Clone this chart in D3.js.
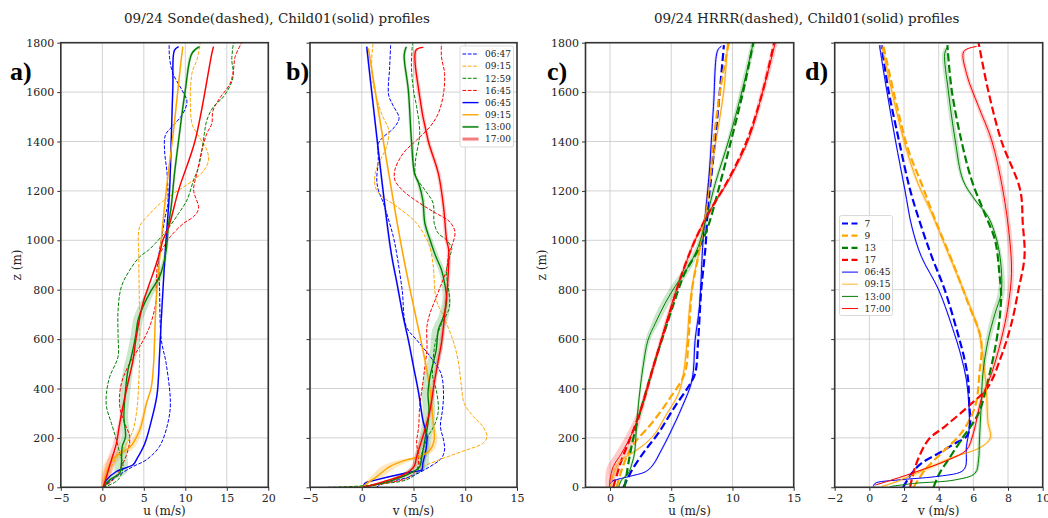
<!DOCTYPE html>
<html>
<head>
<meta charset="utf-8">
<script src="https://cdn.jsdelivr.net/npm/d3@7"></script>
<style>
  body { margin: 0; background: #fff; }
  svg { display: block; font-family: "DejaVu Serif", serif; }
</style>
</head>
<body>
<div id="container"></div>
<script>
// tick labels
const zTicks = [0, 200, 400, 600, 800, 1000, 1200, 1400, 1600, 1800]
const uTicksA = [-5, 0, 5, 10, 15, 20]
const vTicksB = [-5, 0, 5, 10, 15]
const uTicksC = [0, 5, 10, 15]
const vTicksD = [-2, 0, 2, 4, 6, 8, 10]

// legend labels
const sondeTimes = ['06:47', '09:15', '12:59', '16:45']
const childTimes = ['06:45', '09:15', '13:00', '17:00']
const hrrrHours = ['7', '9', '13', '17']

// panel a: u, sonde [u, z]; child [u, z, spread]
const aSonde0647 = [[0.1,0],[1.7,43],[3.7,84],[5.3,111],[6.9,166],[7.9,260],[8.2,340],[7.7,500],[7.1,600],[6.9,800],[6.8,930],[7.1,1000],[7.6,1100],[7.9,1150],[7.8,1271],[7.5,1365],[7.6,1426],[8.4,1460],[9.6,1507],[10.2,1561],[9.6,1608],[8.5,1676],[8.1,1740],[8.06,1797]]
const aSonde0915 = [[0.1,0],[0.7,54],[1.7,121],[2.9,175],[3.7,231],[4.2,325],[4.4,432],[4.5,540],[4.45,790],[4.4,920],[4.5,1055],[5.4,1096],[7.0,1150],[8.6,1190],[11.0,1244],[12.3,1285],[12.8,1325],[12.6,1365],[11.4,1433],[10.8,1473],[10.8,1676],[11.4,1730],[11.8,1800]]
const aSonde1259 = [[0.1,0],[1.9,30],[2.5,84],[2.1,138],[1.7,192],[1.1,259],[0.5,327],[0.5,381],[0.9,448],[1.9,529],[1.9,610],[1.9,717],[2.3,812],[3.3,879],[4.5,933],[5.6,961],[6.4,988],[7.8,1042],[9.2,1109],[10.2,1163],[11.0,1244],[11.6,1298],[12.0,1365],[12.3,1433],[12.6,1487],[13.4,1541],[14.6,1581],[15.6,1642],[15.8,1676],[15.6,1730],[15.8,1800]]
const aSonde1645 = [[0.1,0],[1.3,30],[2.3,84],[3.1,151],[3.3,205],[2.7,259],[2.1,327],[2.3,421],[3.5,515],[4.5,569],[5.7,650],[6.5,758],[6.5,812],[6.8,930],[7.6,985],[8.2,1015],[9.8,1069],[11.0,1096],[11.6,1129],[11.0,1204],[11.4,1271],[12.0,1365],[12.6,1433],[13.2,1473],[13.3,1521],[14.0,1568],[15.4,1635],[15.8,1689],[16.0,1743],[16.8,1800]]
const aChild0645 = [[0.1,0,0.05],[0.5,30,0.1],[1.7,64,0.1],[3.7,91,0.1],[4.1,111,0.1],[5.1,175,0.1],[5.9,268,0.1],[6.6,376,0.1],[6.9,540,0.1],[7.1,676,0.1],[7.6,961,0.1],[8.1,1200,0.1],[8.3,1400,0.1],[8.5,1620,0.1],[8.7,1770,0.1],[9.2,1784,0.1]]
const aChild0915 = [[0.1,0,0.1],[0.3,40,0.5],[0.9,94,0.7],[1.7,128,0.7],[3.3,162,0.6],[4.5,231,0.3],[5.3,338,0.15],[5.9,405,0.1],[6.2,510,0.1],[6.3,600,0.1],[6.5,760,0.1],[7.0,961,0.1],[7.7,1200,0.1],[8.6,1450,0.1],[9.4,1700,0.1],[9.7,1784,0.1]]
const aChild1300 = [[0.1,0,0.1],[0.9,30,0.5],[2.1,57,0.8],[2.3,97,0.8],[2.4,165,0.5],[2.8,205,0.5],[2.6,286,0.5],[2.8,394,0.6],[3.1,475,0.6],[3.5,529,0.6],[4.0,610,0.6],[4.3,677,0.6],[4.9,731,0.6],[5.7,785,0.5],[6.9,853,0.4],[7.3,894,0.3],[7.7,961,0.2],[8.0,1069,0.15],[8.3,1136,0.15],[8.7,1271,0.15],[9.2,1406,0.15],[10.0,1608,0.15],[10.8,1757,0.2],[11.7,1784,0.2]]
const aChild1700 = [[0.1,0,0.3],[0.5,43,0.5],[1.1,111,0.5],[1.7,178,0.4],[2.1,259,0.2],[2.9,394,0.12],[3.7,515,0.1],[4.1,610,0.1],[4.9,745,0.1],[5.7,826,0.1],[6.4,894,0.1],[7.0,961,0.1],[7.3,1000,0.1],[8.0,1055,0.1],[9.2,1204,0.1],[11.2,1406,0.1],[13.2,1757,0.1],[13.4,1784,0.1]]

// panel b: v
const bSonde0647 = [[1.4,0],[2.1,16],[4.7,43],[6.6,84],[7.7,118],[8.0,151],[7.9,192],[7.6,246],[7.8,313],[7.9,381],[7.65,462],[6.6,530],[5.3,597],[4.3,651],[3.9,800],[3.4,940],[3.05,1015],[2.6,1082],[2.1,1150],[1.6,1204],[1.45,1244],[1.6,1325],[1.6,1392],[2.1,1419],[3.05,1453],[3.6,1494],[3.0,1548],[2.6,1588],[2.7,1703],[2.8,1797]]
const bSonde0915 = [[-2.0,0],[0,4],[1.4,9],[4.0,43],[5.9,84],[7.9,118],[10.1,151],[11.7,178],[12.1,205],[11.7,246],[10.8,286],[9.9,340],[9.6,421],[9.3,516],[8.8,597],[7.9,692],[7.2,759],[6.9,900],[6.6,970],[6.3,1001],[5.3,1069],[3.4,1136],[1.8,1183],[1.3,1217],[1.3,1271],[1.8,1325],[2.4,1379],[2.6,1446],[1.9,1514],[1.1,1635],[0.96,1730],[1.1,1797]]
const bSonde1259 = [[-3.3,0],[-0.2,5],[2.4,16],[4.3,30],[5.3,57],[5.6,97],[5.9,151],[6.4,205],[7.1,259],[7.4,313],[7.2,394],[6.85,449],[6.9,516],[7.1,584],[7.6,651],[8.4,719],[8.5,759],[8.2,881],[8.6,947],[8.7,967],[8.2,1001],[7.4,1028],[7.0,1069],[6.9,1150],[6.1,1204],[5.2,1260],[5.2,1325],[5.6,1433],[5.3,1541],[5.0,1608],[4.8,1703],[4.9,1797]]
const bSonde1645 = [[0.1,0],[2.1,16],[4.3,36],[5.3,70],[5.5,124],[5.3,178],[5.5,246],[5.6,327],[5.9,421],[6.1,489],[6.3,557],[6.3,651],[6.6,705],[7.1,759],[7.6,813],[8.2,881],[8.4,947],[8.8,988],[9.0,1035],[8.5,1075],[7.2,1109],[5.6,1150],[3.9,1204],[3.2,1244],[3.2,1285],[4.0,1352],[5.3,1406],[6.6,1460],[7.4,1514],[7.9,1595],[8.0,1676],[7.7,1743],[7.7,1797]]
const bChild0645 = [[0.2,0,0.05],[0.3,16,0.1],[1.4,30,0.2],[5.0,64,0.2],[5.8,70,0.2],[5.9,97,0.2],[6.2,151,0.2],[6.3,205,0.2],[5.9,273,0.1],[5.5,381,0.1],[5.0,489,0.1],[4.5,597,0.1],[4.0,692,0.1],[3.4,827,0.1],[2.8,961,0.1],[0.48,1784,0.1]]
const bChild0915 = [[0.1,0,0.1],[0.5,16,0.3],[1.45,43,0.6],[2.7,84,0.8],[4.3,111,0.7],[5.6,124,0.5],[6.6,151,0.4],[7.0,192,0.3],[6.85,286,0.1],[6.6,394,0.1],[6.1,516,0.1],[3.9,961,0.1],[0.64,1777,0.1]]
const bChild1300 = [[0.1,0,0.1],[1.1,9,0.3],[3.05,30,0.6],[4.7,57,0.8],[5.6,84,0.8],[5.8,124,0.7],[6.1,192,0.6],[6.4,259,0.6],[6.5,313,0.6],[6.4,381,0.6],[6.6,449,0.6],[6.9,503,0.6],[7.2,557,0.6],[7.4,638,0.6],[7.9,692,0.5],[8.2,759,0.4],[8.0,827,0.3],[7.7,881,0.3],[7.1,940,0.3],[6.6,1001,0.25],[6.1,1069,0.2],[5.9,1163,0.2],[5.5,1231,0.2],[5.1,1271,0.15],[4.8,1406,0.15],[4.5,1608,0.15],[4.1,1750,0.15],[4.3,1784,0.15]]
const bChild1700 = [[0.1,0,0.1],[2.1,23,0.2],[4.0,50,0.25],[5.05,84,0.25],[5.3,124,0.25],[5.6,165,0.25],[6.1,232,0.2],[6.6,313,0.2],[7.0,421,0.2],[7.4,516,0.2],[7.7,584,0.2],[8.0,692,0.2],[8.3,827,0.2],[8.4,961,0.2],[8.2,1001,0.2],[7.9,1136,0.2],[7.4,1271,0.2],[6.4,1406,0.2],[5.5,1608,0.2],[5.24,1770,0.2],[5.95,1781,0.2]]

// panel c: u, hrrr [u, z]; child [u, z, spread]
const cHrrr7 = [[1.1,0],[1.8,70],[2.9,151],[3.95,219],[5.3,327],[6.4,407],[6.95,461],[7.2,596],[7.45,799],[7.8,974],[8.0,1136],[8.3,1271],[8.85,1541],[9.3,1790]]
const cHrrr9 = [[0.55,0],[0.95,70],[1.8,165],[3.4,259],[4.8,354],[6.1,461],[6.4,596],[6.7,799],[7.2,934],[7.7,1069],[8.3,1338],[9.0,1608],[9.7,1800]]
const cHrrr13 = [[1.2,0],[1.55,111],[2.0,219],[2.9,380],[3.7,515],[4.5,637],[5.3,758],[6.1,866],[7.2,961],[8.0,1055],[8.85,1204],[9.9,1406],[10.9,1608],[11.7,1800]]
const cHrrr17 = [[0.27,0],[0.95,111],[1.6,192],[2.6,327],[3.7,515],[4.8,691],[5.7,839],[6.95,1001],[8.2,1123],[9.5,1231],[11.2,1406],[12.5,1608],[13.4,1800]]
const cChild0645 = [[0.0,10,0.05],[0.14,23,0.1],[1.5,43,0.1],[2.9,63,0.1],[3.5,90,0.1],[4.2,151,0.1],[4.9,219,0.1],[5.9,327,0.1],[6.7,434,0.1],[6.95,596,0.1],[7.3,731,0.1],[7.6,1001,0.1],[7.85,1136,0.1],[8.1,1271,0.1],[8.45,1541,0.1],[8.8,1770,0.1],[9.1,1786,0.1]]
const cChild0915 = [[0.0,0,0.1],[0.4,70,0.2],[0.95,111,0.2],[1.8,138,0.2],[2.9,178,0.1],[3.7,219,0.1],[4.5,286,0.1],[5.6,380,0.1],[6.0,461,0.1],[6.3,596,0.1],[6.5,731,0.1],[6.8,839,0.1],[7.35,974,0.1],[7.9,1136,0.1],[8.45,1338,0.1],[9.3,1608,0.1],[9.6,1800,0.1]]
const cChild1300 = [[0.7,0,0.1],[0.95,30,0.1],[1.5,57,0.1],[1.8,97,0.1],[2.0,138,0.1],[2.2,273,0.1],[2.45,394,0.1],[2.7,488,0.15],[3.1,596,0.2],[3.7,664,0.3],[4.5,745,0.35],[5.3,812,0.35],[6.4,893,0.3],[7.2,974,0.2],[7.9,1096,0.15],[8.6,1231,0.15],[9.7,1406,0.15],[10.8,1608,0.2],[11.7,1800,0.2]]
const cChild1700 = [[-0.05,0,0.3],[0.0,30,0.4],[0.27,84,0.5],[0.95,138,0.5],[1.8,219,0.4],[2.6,327,0.2],[3.7,515,0.15],[4.8,704,0.15],[5.9,866,0.15],[6.95,1001,0.15],[8.2,1123,0.15],[9.7,1244,0.15],[11.3,1406,0.15],[12.5,1608,0.2],[13.5,1800,0.2]]

// panel d: v
const dHrrr7 = [[1.95,0],[2.45,57],[3.0,97],[4.0,138],[4.95,178],[5.6,205],[5.8,246],[5.75,354],[5.7,434],[5.5,515],[5.1,623],[4.35,799],[3.6,934],[3.0,1055],[2.35,1204],[1.7,1406],[1.1,1608],[0.7,1790]]
const dHrrr9 = [[2.55,0],[3.2,70],[4.15,138],[5.3,219],[6.1,327],[6.35,461],[6.45,596],[5.7,745],[4.75,920],[3.8,1082],[3.0,1231],[2.25,1365],[1.6,1541],[0.8,1790]]
const dHrrr13 = [[3.7,0],[4.05,57],[4.55,111],[5.3,192],[6.3,300],[6.85,434],[7.4,623],[7.6,772],[7.5,866],[7.25,1001],[6.65,1109],[5.9,1244],[5.3,1406],[4.75,1608],[4.5,1790]]
const dHrrr17 = [[2.35,0],[2.65,84],[3.4,192],[4.35,246],[5.7,327],[6.85,407],[7.6,529],[8.2,664],[8.6,799],[8.95,934],[8.85,1069],[8.7,1204],[7.6,1406],[6.85,1608],[6.3,1800]]
const dChild0645 = [[0.23,3,0.05],[0.33,16,0.05],[1.7,30,0.05],[3.8,43,0.05],[5.3,63,0.05],[5.55,84,0.05],[5.6,165,0.05],[5.75,232,0.05],[5.75,327,0.05],[5.6,434,0.05],[5.3,529,0.05],[4.9,623,0.05],[4.0,799,0.05],[3.0,934,0.05],[2.45,1055,0.05],[2.05,1204,0.05],[1.5,1406,0.05],[1.0,1608,0.05],[0.58,1790,0.05]]
const dChild0915 = [[0.7,3,0.1],[1.3,16,0.2],[2.25,43,0.3],[3.6,84,0.3],[4.9,124,0.2],[6.1,151,0.1],[6.75,178,0.1],[7.0,205,0.1],[6.85,259,0.1],[6.75,394,0.1],[6.55,529,0.1],[6.3,637,0.1],[5.5,785,0.1],[4.55,947,0.1],[3.6,1109,0.1],[2.8,1231,0.1],[2.15,1365,0.1],[1.5,1541,0.1],[0.7,1790,0.1]]
const dChild1300 = [[1.2,3,0.1],[2.6,16,0.1],[4.95,30,0.1],[6.1,57,0.1],[6.3,111,0.1],[6.35,192,0.1],[6.45,327,0.1],[6.55,461,0.1],[6.85,596,0.15],[7.25,704,0.2],[7.6,785,0.2],[7.6,893,0.15],[7.35,1001,0.1],[6.85,1096,0.1],[6.1,1163,0.1],[5.4,1244,0.1],[4.95,1406,0.15],[4.55,1608,0.15],[4.35,1757,0.15],[4.5,1781,0.15]]
const dChild1700 = [[0.33,9,0.08],[1.3,30,0.08],[3.0,70,0.1],[4.55,111,0.1],[5.6,151,0.1],[6.0,219,0.1],[6.45,354,0.1],[7.05,461,0.12],[7.6,596,0.12],[8.0,731,0.15],[8.2,866,0.15],[8.1,1001,0.15],[7.7,1204,0.15],[7.05,1406,0.15],[6.3,1541,0.12],[5.6,1676,0.12],[5.45,1765,0.12],[6.2,1785,0.12]]

const colors = ['#0000ff', '#ffa500', '#008000', '#ff0000']

const width = 1048
const height = 518
const svg = d3.select('#container').append('svg').attr('width', width).attr('height', height)

const yScale = d3.scaleLinear().domain([0, 1800]).range([487.3, 42.7])

const panels = [
    { key: 'a', left: 60.8, right: 268.3, domain: [-5, 20], ticks: uTicksA, xlabel: 'u (m/s)', zLabels: true,
      dashed: [aSonde0647, aSonde0915, aSonde1259, aSonde1645], solid: [aChild0645, aChild0915, aChild1300, aChild1700], thinDash: true },
    { key: 'b', left: 310, right: 517, domain: [-5, 15], ticks: vTicksB, xlabel: 'v (m/s)', zLabels: false,
      dashed: [bSonde0647, bSonde0915, bSonde1259, bSonde1645], solid: [bChild0645, bChild0915, bChild1300, bChild1700], thinDash: true },
    { key: 'c', left: 585.5, right: 793.7, domain: [-2, 15], ticks: uTicksC, xlabel: 'u (m/s)', zLabels: true,
      dashed: [cHrrr7, cHrrr9, cHrrr13, cHrrr17], solid: [cChild0645, cChild0915, cChild1300, cChild1700], thinDash: false },
    { key: 'd', left: 834.7, right: 1042.7, domain: [-2, 10], ticks: vTicksD, xlabel: 'v (m/s)', zLabels: false,
      dashed: [dHrrr7, dHrrr9, dHrrr13, dHrrr17], solid: [dChild0645, dChild0915, dChild1300, dChild1700], thinDash: false }
]

const letterX = { a: 10, b: 286, c: 547, d: 805 }

panels.forEach(p => {
    const xScale = d3.scaleLinear().domain(p.domain).range([p.left, p.right])
    const g = svg.append('g')
    const top = yScale(1800), bottom = yScale(0)

    svg.append('clipPath').attr('id', 'clip-' + p.key)
        .append('rect').attr('x', p.left).attr('y', top).attr('width', p.right - p.left).attr('height', bottom - top)

    // grid
    g.selectAll('.vgrid').data(p.ticks).enter().append('line')
        .attr('x1', d => xScale(d)).attr('x2', d => xScale(d))
        .attr('y1', top).attr('y2', bottom)
        .attr('stroke', '#c8c8c8').attr('stroke-width', 0.8)
    g.selectAll('.hgrid').data(zTicks).enter().append('line')
        .attr('x1', p.left).attr('x2', p.right)
        .attr('y1', d => yScale(d)).attr('y2', d => yScale(d))
        .attr('stroke', '#c8c8c8').attr('stroke-width', 0.8)

    const plot = g.append('g').attr('clip-path', `url(#clip-${p.key})`)
    const curve = d3.curveCatmullRom.alpha(0.5)
    const line = d3.line().x(d => xScale(d[0])).y(d => yScale(d[1])).curve(curve)
    const band = d3.area().x0(d => xScale(d[0] - d[2])).x1(d => xScale(d[0] + d[2])).y(d => yScale(d[1])).curve(curve)

    // shaded spread around child profiles
    p.solid.forEach((s, i) => {
        plot.append('path').attr('d', band(s))
            .attr('fill', colors[i]).attr('fill-opacity', i === 1 ? 0.25 : 0.2)
    })
    p.dashed.forEach((s, i) => {
        plot.append('path').attr('d', line(s)).attr('fill', 'none')
            .attr('stroke', colors[i])
            .attr('stroke-width', p.thinDash ? 1 : 2.2)
            .attr('stroke-dasharray', p.thinDash ? '3.7,1.6' : '8,3.5')
    })
    p.solid.forEach((s, i) => {
        plot.append('path').attr('d', line(s)).attr('fill', 'none')
            .attr('stroke', colors[i])
            .attr('stroke-width', p.thinDash ? 1.4 : 1)
    })

    // axes
    const xAxis = d3.axisBottom(xScale).tickValues(p.ticks).tickSize(3.5).tickPadding(3)
    const gx = svg.append('g').attr('transform', `translate(0, ${bottom})`).call(xAxis)
    const yAxis = d3.axisLeft(yScale).tickValues(zTicks).tickSize(3.5).tickPadding(3)
        .tickFormat(p.zLabels ? d3.format('d') : '')
    const gy = svg.append('g').attr('transform', `translate(${p.left}, 0)`).call(yAxis)
    ;[gx, gy].forEach(a => {
        a.select('.domain').remove()
        a.selectAll('text').attr('font-family', '"DejaVu Serif", serif').attr('font-size', 11).attr('fill', '#222')
        a.selectAll('line').attr('stroke', '#333')
    })

    // frame
    svg.append('rect').attr('x', p.left).attr('y', top)
        .attr('width', p.right - p.left).attr('height', bottom - top)
        .attr('fill', 'none').attr('stroke', '#333').attr('stroke-width', 1.6)

    svg.append('text').attr('x', (p.left + p.right) / 2).attr('y', 515)
        .attr('text-anchor', 'middle').attr('font-size', 12).attr('fill', '#222').text(p.xlabel)

    if (p.zLabels) {
        svg.append('text').attr('transform', `translate(${p.left - 40}, ${(top + bottom) / 2}) rotate(-90)`)
            .attr('text-anchor', 'middle').attr('font-size', 12).attr('fill', '#222').text('z (m)')
    }

    svg.append('text').attr('x', letterX[p.key]).attr('y', 80)
        .attr('font-family', '"Liberation Serif", serif').attr('font-weight', 'bold')
        .attr('font-size', 26).attr('fill', '#000').text(p.key + ')')
})

// titles
svg.append('text').attr('x', 277).attr('y', 23).attr('text-anchor', 'middle')
    .attr('font-size', 13.5).attr('fill', '#222').text('09/24 Sonde(dashed), Child01(solid) profiles')
svg.append('text').attr('x', 806.7).attr('y', 23).attr('text-anchor', 'middle')
    .attr('font-size', 13.5).attr('fill', '#222').text('09/24 HRRR(dashed), Child01(solid) profiles')

// legends
const addLegend = (x, y, w, h, entries) => {
    const lg = svg.append('g')
    lg.append('rect').attr('x', x).attr('y', y).attr('width', w).attr('height', h).attr('rx', 2)
        .attr('fill', '#fff').attr('fill-opacity', 0.85).attr('stroke', '#d0d0d0').attr('stroke-width', 0.8)
    entries.forEach((e, i) => {
        const cy = y + 8 + i * 12.15
        lg.append('line').attr('x1', x + 2.5).attr('x2', x + 18.5).attr('y1', cy).attr('y2', cy)
            .attr('stroke', e.color).attr('stroke-width', e.width)
            .attr('stroke-opacity', e.opacity || 1)
            .attr('stroke-dasharray', e.dash || null)
        lg.append('text').attr('x', x + 25).attr('y', cy + 3.2)
            .attr('font-size', 9).attr('fill', '#222').text(e.label)
    })
}

addLegend(460, 46, 53.5, 101, [
    ...sondeTimes.map((t, i) => ({ label: t, color: colors[i], width: 1, dash: '3.7,1.6' })),
    { label: childTimes[0], color: colors[0], width: 1.4 },
    { label: childTimes[1], color: colors[1], width: 1.4 },
    { label: childTimes[2], color: '#3a9a3a', width: 2 },
    { label: childTimes[3], color: '#f47c7c', width: 3 }
])

addLegend(839.5, 215.5, 53, 100, [
    ...hrrrHours.map((t, i) => ({ label: t, color: colors[i], width: 2.2, dash: '6,3.5' })),
    { label: childTimes[0], color: colors[0], width: 1 },
    { label: childTimes[1], color: colors[1], width: 1.4, opacity: 0.6 },
    { label: childTimes[2], color: colors[2], width: 1 },
    { label: childTimes[3], color: colors[3], width: 1 }
])
</script>
</body>
</html>
